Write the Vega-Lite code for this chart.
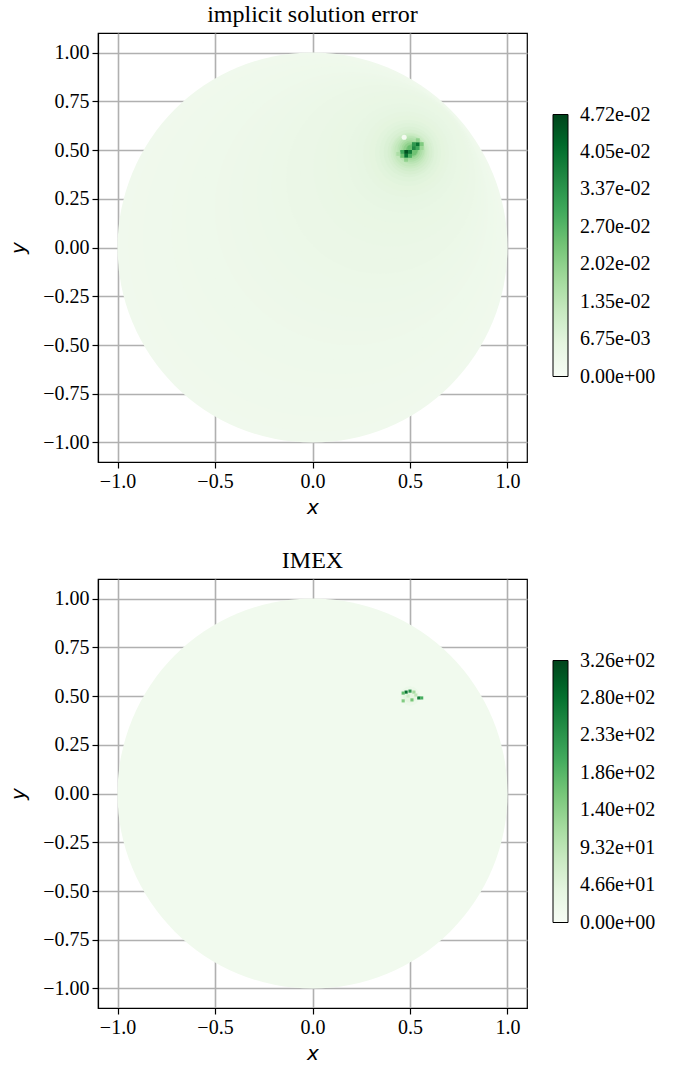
{
  "$schema": "https://vega.github.io/schema/vega-lite/v6.json",
  "background": "white",
  "padding": {"left": 8, "top": 1, "right": 5, "bottom": 2},
  "datasets": {
    "circ1": [
      {"cx": 0.0, "cy": 0.0, "r": 1.0, "v": 0.0023},
      {"cx": 0.02, "cy": 0.02, "r": 0.965, "v": 0.0024},
      {"cx": 0.05, "cy": 0.05, "r": 0.92, "v": 0.0025},
      {"cx": 0.08, "cy": 0.08, "r": 0.88, "v": 0.0026},
      {"cx": 0.11, "cy": 0.11, "r": 0.835, "v": 0.0027},
      {"cx": 0.14, "cy": 0.14, "r": 0.79, "v": 0.0028},
      {"cx": 0.17, "cy": 0.17, "r": 0.745, "v": 0.0029},
      {"cx": 0.2, "cy": 0.2, "r": 0.7, "v": 0.003},
      {"cx": 0.23, "cy": 0.23, "r": 0.66, "v": 0.0032},
      {"cx": 0.26, "cy": 0.26, "r": 0.62, "v": 0.0033},
      {"cx": 0.29, "cy": 0.29, "r": 0.575, "v": 0.0035},
      {"cx": 0.32, "cy": 0.32, "r": 0.53, "v": 0.0036},
      {"cx": 0.35, "cy": 0.35, "r": 0.485, "v": 0.0038},
      {"cx": 0.38, "cy": 0.38, "r": 0.44, "v": 0.004},
      {"cx": 0.405, "cy": 0.405, "r": 0.4, "v": 0.0042},
      {"cx": 0.43, "cy": 0.43, "r": 0.36, "v": 0.0044},
      {"cx": 0.445, "cy": 0.445, "r": 0.32, "v": 0.0046},
      {"cx": 0.46, "cy": 0.46, "r": 0.28, "v": 0.0049},
      {"cx": 0.47, "cy": 0.47, "r": 0.25, "v": 0.0052},
      {"cx": 0.48, "cy": 0.478, "r": 0.22, "v": 0.0056},
      {"cx": 0.485, "cy": 0.482, "r": 0.195, "v": 0.006},
      {"cx": 0.49, "cy": 0.485, "r": 0.17, "v": 0.0065},
      {"cx": 0.493, "cy": 0.488, "r": 0.15, "v": 0.0071},
      {"cx": 0.495, "cy": 0.49, "r": 0.13, "v": 0.0078},
      {"cx": 0.5, "cy": 0.49, "r": 0.115, "v": 0.0087},
      {"cx": 0.5, "cy": 0.49, "r": 0.1, "v": 0.0098},
      {"cx": 0.5, "cy": 0.495, "r": 0.09, "v": 0.011},
      {"cx": 0.5, "cy": 0.495, "r": 0.08, "v": 0.0123},
      {"cx": 0.505, "cy": 0.5, "r": 0.07, "v": 0.0138},
      {"cx": 0.505, "cy": 0.5, "r": 0.06, "v": 0.0155},
      {"cx": 0.505, "cy": 0.5, "r": 0.05, "v": 0.0175},
      {"cx": 0.505, "cy": 0.5, "r": 0.04, "v": 0.02},
      {"cx": 0.51, "cy": 0.5, "r": 0.03, "v": 0.024},
      {"cx": 0.47, "cy": 0.565, "r": 0.013, "v": 0.001}
    ],
    "sq1": [
      {"cx": 0.52, "cy": 0.51, "r": 0.01, "v": 0.036},
      {"cx": 0.54, "cy": 0.51, "r": 0.01, "v": 0.03},
      {"cx": 0.52, "cy": 0.53, "r": 0.01, "v": 0.033},
      {"cx": 0.54, "cy": 0.53, "r": 0.01, "v": 0.04},
      {"cx": 0.56, "cy": 0.53, "r": 0.01, "v": 0.022},
      {"cx": 0.54, "cy": 0.55, "r": 0.01, "v": 0.02},
      {"cx": 0.56, "cy": 0.51, "r": 0.01, "v": 0.018},
      {"cx": 0.5, "cy": 0.51, "r": 0.01, "v": 0.025},
      {"cx": 0.48, "cy": 0.49, "r": 0.01, "v": 0.045},
      {"cx": 0.48, "cy": 0.47, "r": 0.01, "v": 0.04},
      {"cx": 0.5, "cy": 0.49, "r": 0.01, "v": 0.038},
      {"cx": 0.46, "cy": 0.49, "r": 0.01, "v": 0.03},
      {"cx": 0.46, "cy": 0.47, "r": 0.01, "v": 0.024},
      {"cx": 0.5, "cy": 0.47, "r": 0.01, "v": 0.028},
      {"cx": 0.48, "cy": 0.45, "r": 0.01, "v": 0.02},
      {"cx": 0.44, "cy": 0.48, "r": 0.01, "v": 0.016}
    ],
    "circ2": [
      {"cx": 0.0, "cy": 0.0, "r": 1.0, "v": 14},
      {"cx": 0.5, "cy": 0.5, "r": 0.05, "v": 24},
      {"cx": 0.5, "cy": 0.5, "r": 0.035, "v": 40}
    ],
    "sq2": [
      {"cx": 0.48, "cy": 0.52, "r": 0.008, "v": 280},
      {"cx": 0.5, "cy": 0.525, "r": 0.008, "v": 230},
      {"cx": 0.465, "cy": 0.515, "r": 0.008, "v": 180},
      {"cx": 0.545, "cy": 0.49, "r": 0.008, "v": 260},
      {"cx": 0.56, "cy": 0.49, "r": 0.008, "v": 200},
      {"cx": 0.465, "cy": 0.475, "r": 0.008, "v": 150},
      {"cx": 0.51, "cy": 0.48, "r": 0.008, "v": 160},
      {"cx": 0.52, "cy": 0.52, "r": 0.008, "v": 120},
      {"cx": 0.53, "cy": 0.505, "r": 0.008, "v": 90},
      {"cx": 0.49, "cy": 0.5, "r": 0.008, "v": 70}
    ]
  },
  "vconcat": [
    {
      "title": {"text": "implicit solution error"},
      "width": 429,
      "height": 429,
      "encoding": {
        "x": {"field": "cx", "type": "quantitative", "title": "x",
              "scale": {"domain": [-1.1, 1.1], "nice": false, "zero": false},
              "axis": {"values": [-1, -0.5, 0, 0.5, 1], "format": ".1f"}},
        "y": {"field": "cy", "type": "quantitative", "title": "y",
              "scale": {"domain": [-1.1, 1.1], "nice": false, "zero": false},
              "axis": {"values": [-1, -0.75, -0.5, -0.25, 0, 0.25, 0.5, 0.75, 1], "format": ".2f"}},
        "size": {"field": "r", "type": "quantitative", "legend": null,
                 "scale": {"type": "pow", "exponent": 2, "domain": [0, 1], "range": [0, 152100]}},
        "color": {"field": "v", "type": "quantitative",
                  "scale": {"domain": [0, 0.00590375, 0.0118075, 0.01771125, 0.023615, 0.02951875, 0.0354225, 0.04132625, 0.04723],
                            "range": ["#f7fcf5", "#e5f5e0", "#c7e9c0", "#a1d99b", "#74c476", "#41ab5d", "#238b45", "#006d2c", "#00441b"],
                            "interpolate": "rgb", "clamp": true},
                  "legend": {"values": [1e-12, 0.006747, 0.013494, 0.020241, 0.026989, 0.033736, 0.040483, 0.0472299],
                             "orient": "none", "legendX": 455, "legendY": 81.5, "direction": "vertical", "title": null, "padding": 0,
                             "gradientLength": 262, "gradientThickness": 15,
                             "gradientStrokeColor": "black", "gradientStrokeWidth": 1,
                             "labelFont": "Liberation Serif", "labelFontSize": 20, "labelColor": "black",
                             "labelOffset": 12, "labelOverlap": false,
                             "labelExpr": "datum.value < 1e-9 ? '0.00e+00' : replace(replace(format(datum.value, '.2e'), regexp('e-([0-9])$'), 'e-0$1'), regexp('e[+]([0-9])$'), 'e+0$1')"}}
      },
      "layer": [
        {"data": {"name": "circ1"}, "mark": {"type": "point", "shape": "circle", "filled": true, "opacity": 1, "strokeWidth": 0}},
        {"data": {"name": "sq1"}, "mark": {"type": "point", "shape": "square", "filled": true, "opacity": 1, "strokeWidth": 0}}
      ]
    },
    {
      "title": {"text": "IMEX"},
      "width": 429,
      "height": 429,
      "encoding": {
        "x": {"field": "cx", "type": "quantitative", "title": "x",
              "scale": {"domain": [-1.1, 1.1], "nice": false, "zero": false},
              "axis": {"values": [-1, -0.5, 0, 0.5, 1], "format": ".1f"}},
        "y": {"field": "cy", "type": "quantitative", "title": "y",
              "scale": {"domain": [-1.1, 1.1], "nice": false, "zero": false},
              "axis": {"values": [-1, -0.75, -0.5, -0.25, 0, 0.25, 0.5, 0.75, 1], "format": ".2f"}},
        "size": {"field": "r", "type": "quantitative", "legend": null,
                 "scale": {"type": "pow", "exponent": 2, "domain": [0, 1], "range": [0, 152100]}},
        "color": {"field": "v", "type": "quantitative",
                  "scale": {"domain": [0, 40.775, 81.55, 122.325, 163.1, 203.875, 244.65, 285.425, 326.2],
                            "range": ["#f7fcf5", "#e5f5e0", "#c7e9c0", "#a1d99b", "#74c476", "#41ab5d", "#238b45", "#006d2c", "#00441b"],
                            "interpolate": "rgb", "clamp": true},
                  "legend": {"values": [1e-9, 46.6, 93.2, 139.8, 186.4, 233.0, 279.6, 326.1999],
                             "orient": "none", "legendX": 455, "legendY": 81.5, "direction": "vertical", "title": null, "padding": 0,
                             "gradientLength": 262, "gradientThickness": 15,
                             "gradientStrokeColor": "black", "gradientStrokeWidth": 1,
                             "labelFont": "Liberation Serif", "labelFontSize": 20, "labelColor": "black",
                             "labelOffset": 12, "labelOverlap": false,
                             "labelExpr": "datum.value < 1e-6 ? '0.00e+00' : replace(replace(format(datum.value, '.2e'), regexp('e-([0-9])$'), 'e-0$1'), regexp('e[+]([0-9])$'), 'e+0$1')"}}
      },
      "layer": [
        {"data": {"name": "circ2"}, "mark": {"type": "point", "shape": "circle", "filled": true, "opacity": 1, "strokeWidth": 0}},
        {"data": {"name": "sq2"}, "mark": {"type": "point", "shape": "square", "filled": true, "opacity": 1, "strokeWidth": 0}}
      ]
    }
  ],
  "spacing": 29,
  "resolve": {"scale": {"color": "independent", "size": "independent"}, "legend": {"color": "independent"}},
  "config": {
    "view": {"stroke": "black", "strokeWidth": 1.2},
    "title": {"font": "Liberation Serif", "fontSize": 24, "fontWeight": "normal", "color": "black", "offset": 6.5, "anchor": "middle"},
    "axis": {
      "zindex": 1, "grid": true, "gridColor": "#b0b0b0", "gridWidth": 1.6,
      "domain": true, "domainColor": "black", "domainWidth": 1.2,
      "ticks": true, "tickColor": "black", "tickSize": 6, "tickWidth": 1.2,
      "labelFont": "Liberation Serif", "labelFontSize": 20, "labelColor": "black", "labelPadding": 3,
      "titleFont": "DejaVu Sans", "titleFontStyle": "italic", "titleFontWeight": "normal", "titleFontSize": 20, "titleColor": "black",
      "titlePadding": 6
    },
    "axisY": {"titlePadding": 14}
  }
}
